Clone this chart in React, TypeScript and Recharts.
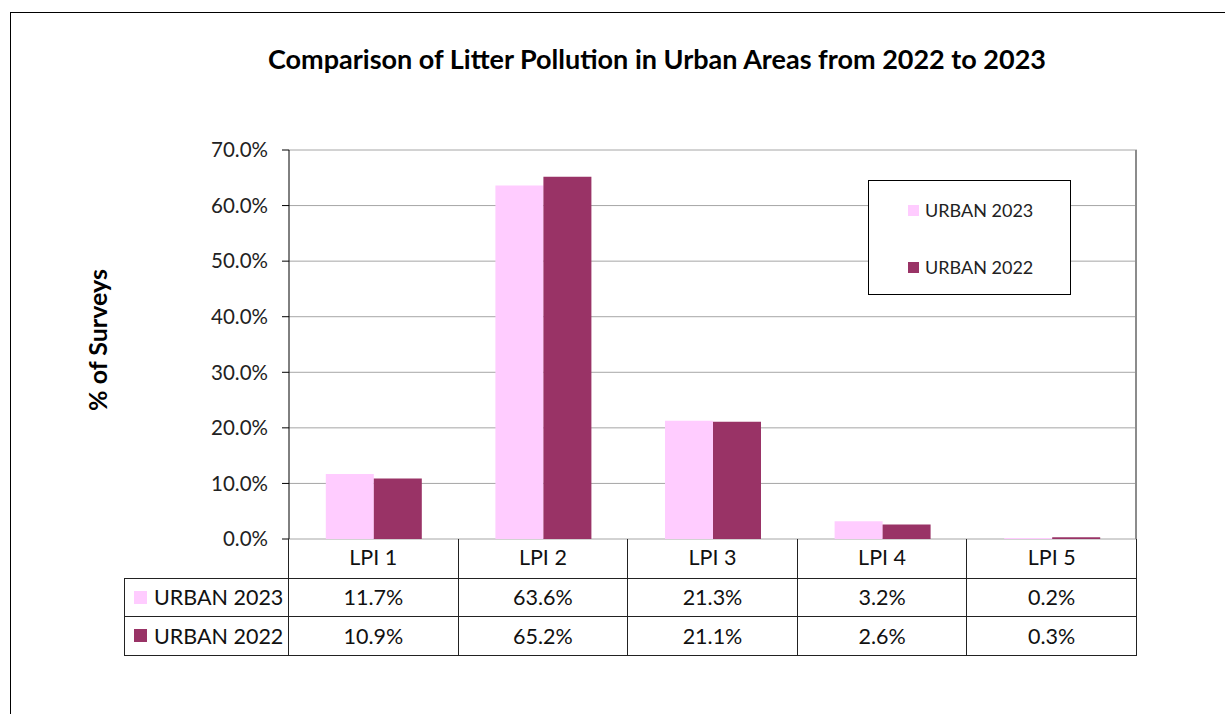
import React from "react";
import { BarChart, Bar, XAxis, YAxis, CartesianGrid, Legend } from "recharts";

const categories = ["LPI 1", "LPI 2", "LPI 3", "LPI 4", "LPI 5"];
const urban2023 = [11.7, 63.6, 21.3, 3.2, 0.2];
const urban2022 = [10.9, 65.2, 21.1, 2.6, 0.3];
const yTicks = [0, 10, 20, 30, 40, 50, 60, 70];

const series = [
  { key: "u2023", name: "URBAN 2023", color: "#FFCCFF", values: urban2023 },
  { key: "u2022", name: "URBAN 2022", color: "#993366", values: urban2022 },
];

const data = categories.map((c, i) => ({
  cat: c,
  u2023: urban2023[i],
  u2022: urban2022[i],
}));

const FONT = "Lato, 'Open Sans', sans-serif";
const PLOT_L = 289;
const PLOT_R = 1137;
const PLOT_B = 539;
const COL_W = (PLOT_R - PLOT_L) / categories.length;
const ROW_H = 38.5;

const pct = (v: number) => `${v.toFixed(1)}%`;

function LegendBox() {
  return (
    <div
      style={{
        width: 203,
        height: 115,
        border: "1px solid #000",
        background: "#fff",
        boxSizing: "border-box",
        fontFamily: FONT,
        fontSize: 18,
        color: "#222",
        paddingTop: 17,
      }}
    >
      {series.map((s, i) => (
        <div key={s.key} style={{ display: "flex", alignItems: "center", marginLeft: 39, height: 24, marginTop: i === 0 ? 0 : 33 }}>
          <span style={{ width: 11, height: 11, background: s.color, display: "inline-block", marginRight: 6 }} />
          <span>{s.name}</span>
        </div>
      ))}
    </div>
  );
}

function DataTable() {
  const cell: React.CSSProperties = {
    position: "absolute",
    boxSizing: "border-box",
    display: "flex",
    alignItems: "center",
    justifyContent: "center",
    fontFamily: FONT,
    fontSize: 21.5,
    color: "#111",
  };
  const items: React.ReactNode[] = [];
  categories.forEach((c, i) => {
    items.push(
      <div
        key={"h" + i}
        style={{
          ...cell,
          left: PLOT_L + i * COL_W - 1,
          top: PLOT_B,
          width: COL_W + 1,
          height: ROW_H * 3 + 1,
          borderLeft: "1px solid #222",
          borderRight: "1px solid #222",
          borderBottom: "1px solid #222",
          alignItems: "flex-start",
          paddingTop: 5,
        }}
      >
        {c}
      </div>
    );
  });
  series.forEach((s, r) => {
    const top = PLOT_B + ROW_H * (r + 1);
    items.push(
      <div
        key={"l" + r}
        style={{
          ...cell,
          left: 124,
          top,
          width: PLOT_L - 124,
          height: ROW_H + 1,
          border: "1px solid #222",
          justifyContent: "flex-start",
          paddingLeft: 9,
        }}
      >
        <span style={{ width: 13, height: 13, background: s.color, display: "inline-block", marginRight: 7 }} />
        {s.name}
      </div>
    );
    s.values.forEach((v, i) => {
      items.push(
        <div
          key={"c" + r + i}
          style={{
            ...cell,
            left: PLOT_L + i * COL_W - 1,
            top,
            width: COL_W + 1,
            height: ROW_H + 1,
            border: "1px solid #222",
          }}
        >
          {pct(v)}
        </div>
      );
    });
  });
  return <>{items}</>;
}

export default function App() {
  return (
    <div style={{ position: "absolute", left: 0, top: 0, width: 1225, height: 714, overflow: "hidden", background: "#fff" }}>
      <div style={{ position: "absolute", left: 10, top: 12, width: 1400, height: 900, border: "1px solid #000" }} />
      <div
        style={{
          position: "absolute",
          left: 0,
          width: 1314,
          top: 42,
          textAlign: "center",
          fontFamily: FONT,
          fontWeight: "bold",
          fontSize: 27,
          color: "#000",
        }}
      >
        Comparison of Litter Pollution in Urban Areas from 2022 to 2023
      </div>
      <div
        style={{
          position: "absolute",
          left: 97,
          top: 340,
          transform: "translate(-50%, -50%) rotate(-90deg)",
          whiteSpace: "nowrap",
          fontFamily: FONT,
          fontWeight: "bold",
          fontSize: 25,
          color: "#000",
        }}
      >
        % of Surveys
      </div>
      <div style={{ position: "absolute", left: 0, top: 0 }}>
        <BarChart
          width={1225}
          height={714}
          data={data}
          margin={{ top: 150, right: 1225 - PLOT_R, bottom: 714 - PLOT_B, left: PLOT_L - 80 }}
          barCategoryGap="21.7%"
          barGap={0}
        >
          <CartesianGrid vertical={false} stroke="#a6a6a6" />
          <CartesianGrid horizontal={false} verticalPoints={[PLOT_R - 1]} stroke="#8c8c8c" strokeWidth={2} />
          <XAxis dataKey="cat" axisLine={{ stroke: "#000" }} tickLine={false} tick={false} height={0} />
          <YAxis
            domain={[0, 70]}
            ticks={yTicks}
            tickFormatter={pct}
            width={80}
            tickSize={7}
            tickMargin={14}
            axisLine={{ stroke: "#000" }}
            tickLine={{ stroke: "#000" }}
            tick={{ fill: "#222", fontSize: 20.5, fontFamily: FONT }}
            interval={0}
          />
          <Legend
            layout="horizontal"
            verticalAlign="middle"
            align="center"
            wrapperStyle={{ left: 868, top: 180, width: 203 }}
            content={() => <LegendBox />}
          />
          {series.map((s) => (
            <Bar key={s.key} dataKey={s.key} name={s.name} fill={s.color} isAnimationActive={false} />
          ))}
        </BarChart>
      </div>
      <DataTable />
    </div>
  );
}
